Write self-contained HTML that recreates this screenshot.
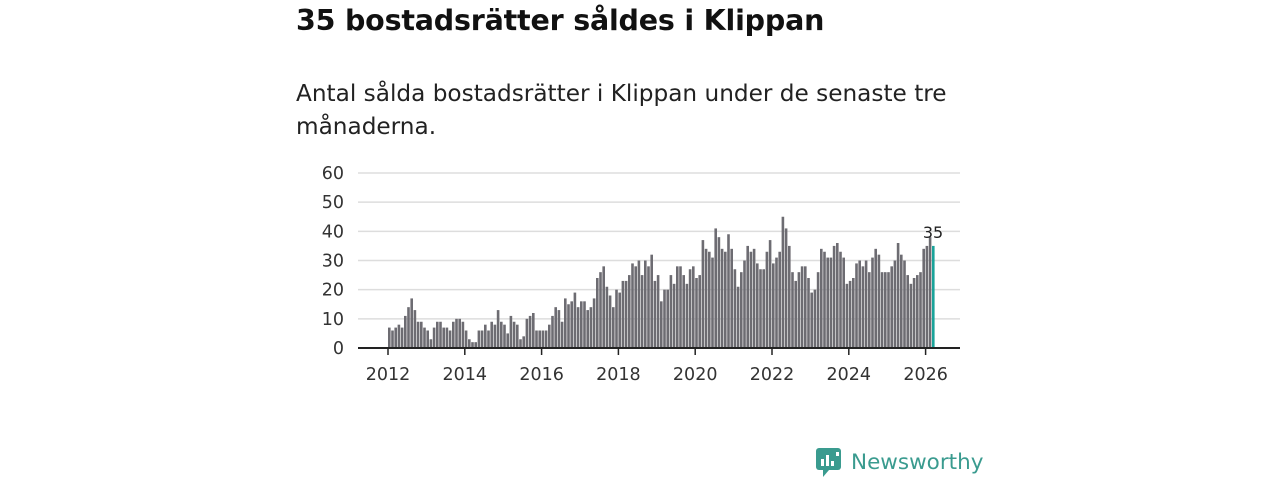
<!DOCTYPE html>
<html><head><meta charset="utf-8"><style>
body{margin:0;width:1280px;height:480px;background:#fff;font-family:"Liberation Sans","DejaVu Sans",sans-serif;overflow:hidden;position:relative}
h1{position:absolute;left:296px;top:4px;margin:0;font-size:28.5px;font-weight:bold;color:#111;font-family:"DejaVu Sans","Liberation Sans",sans-serif;letter-spacing:-0.2px}
.sub{position:absolute;left:296px;top:77px;width:690px;font-size:23.2px;line-height:33px;color:#222;font-family:"DejaVu Sans","Liberation Sans",sans-serif}
svg{position:absolute;left:0;top:0}
</style></head><body>
<h1>35 bostadsrätter såldes i Klippan</h1>
<div class="sub">Antal sålda bostadsrätter i Klippan under de senaste tre månaderna.</div>
<svg id="chart" width="1280" height="480"></svg>
<div style="position:absolute;left:815px;top:446px;height:32px;display:flex;align-items:center">
<svg width="28" height="32" style="position:static"><rect x="1" y="2" width="25" height="22" rx="3" fill="#3a9b8f"/><polygon points="8,24 14,24 8,31" fill="#3a9b8f"/><rect x="6" y="13" width="3" height="7" fill="#fff"/><rect x="11" y="9" width="3" height="11" fill="#fff"/><rect x="16" y="15" width="3" height="5" fill="#fff"/><rect x="21" y="6" width="3" height="4" fill="#fff"/></svg>
<span style="margin-left:8px;font-size:21.5px;color:#3a9b8f;font-family:'DejaVu Sans','Liberation Sans',sans-serif">Newsworthy</span></div>
<script>
const values=[7,6,7,8,7,11,14,17,13,9,9,7,6,
3,7,9,9,7,7,6,9,10,10,9,6,
3,2,2,6,6,8,6,9,8,13,9,8,
5,11,9,8,3,4,10,11,12,6,6,6,
6,8,11,14,13,9,17,15,
16,19,14,16,16,13,14,17,24,26,28,21,18,14,20,19,23,23,25,29,28,30,25,30,28,32,23,
25,16,20,20,25,22,28,28,25,22,27,28,24,25,37,34,33,31,41,38,34,33,39,34,27,21,26,30,35,33,34,29,27,27,33,37,
29,31,33,45,41,35,26,23,26,28,28,24,19,20,26,34,33,31,31,35,36,33,31,22,
23,24,29,30,28,30,26,31,34,32,26,26,26,28,30,36,32,30,25,22,24,25,26,34,35,38,35];
const yTicks=[0,10,20,30,40,50,60];
const xTicks=[2012,2014,2016,2018,2020,2022,2024,2026];
const svg=document.getElementById('chart');const NS='http://www.w3.org/2000/svg';
const y=v=>348-v*(175/60);
const x=i=>388+i*3.2;
const xYear=yr=>388+(yr-2012)*12*3.2;
function el(t,a){const e=document.createElementNS(NS,t);for(const k in a)e.setAttribute(k,a[k]);svg.appendChild(e);return e;}
yTicks.forEach(t=>{
 if(t>0){const g=el('line',{x1:358,x2:960,y1:y(t),y2:y(t),stroke:'#ddd','stroke-width':1.5});
 
 }
 const l=el('text',{x:344,y:y(t)+6,'text-anchor':'end','font-size':17.5,fill:'#333','font-family':'DejaVu Sans, Liberation Sans, sans-serif'});l.textContent=t;
 
 
});
values.forEach((v,i)=>{
 const last=i===values.length-1;
 const r=el('rect',{x:x(i),y:y(v),width:2.6,height:348-y(v),fill:last?'#1aa39a':'#6d6c72'});
 
 
 if(last){const t=el('text',{x:x(i)+1,y:y(v)-8,'text-anchor':'middle','font-size':16,fill:'#222','font-family':'DejaVu Sans, Liberation Sans, sans-serif'});t.textContent=v;
 
 }
});
const ax=el('line',{x1:358,x2:960,y1:348,y2:348,stroke:'#222','stroke-width':2});


xTicks.forEach(yr=>{
 const tk=el('line',{x1:xYear(yr),x2:xYear(yr),y1:348,y2:355,stroke:'#222','stroke-width':1.5});
 
 
 const l=el('text',{x:xYear(yr),y:380,'text-anchor':'middle','font-size':17.5,fill:'#333','font-family':'DejaVu Sans, Liberation Sans, sans-serif'});l.textContent=yr;
 
 
});
</script>
</body></html>
